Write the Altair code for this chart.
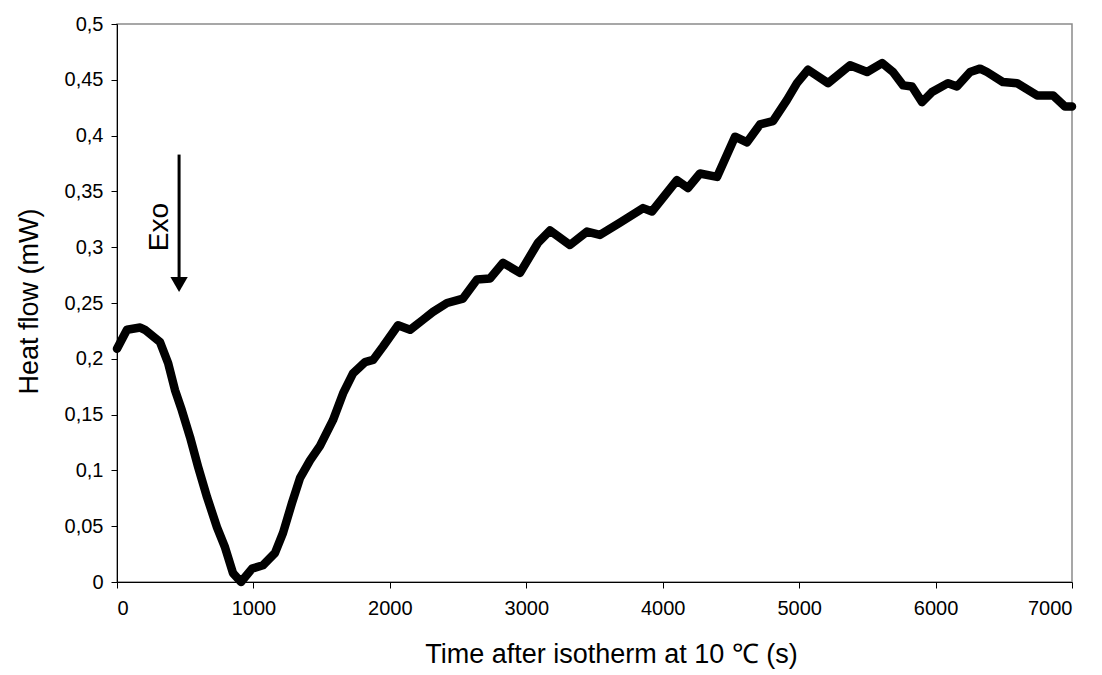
import altair as alt
import pandas as pd

# Heat flow curve (time in s, heat flow in mW)
time_s = [0, 73, 170, 205, 315, 375, 425, 475, 535, 595, 660, 733, 792, 850, 909,
          990, 1070, 1158, 1217, 1283, 1341, 1415, 1488, 1583, 1657, 1730, 1818, 1877,
          1950, 2060, 2148, 2243, 2316, 2419, 2536, 2639, 2734, 2830, 2954, 3086, 3174,
          3320, 3445, 3540, 3687, 3856, 3921, 4104, 4185, 4273, 4398, 4530, 4618, 4713,
          4808, 4911, 4984, 5065, 5212, 5373, 5498, 5608, 5688, 5762, 5827, 5901, 5974,
          6091, 6157, 6253, 6326, 6377, 6494, 6597, 6744, 6861, 6949, 7000]
heat_mw = [0.209, 0.226, 0.228, 0.226, 0.215, 0.196, 0.172, 0.154, 0.130, 0.103, 0.076,
           0.049, 0.031, 0.008, 0.000, 0.012, 0.015, 0.026, 0.044, 0.071, 0.093, 0.109,
           0.122, 0.145, 0.169, 0.187, 0.197, 0.199, 0.211, 0.230, 0.226, 0.235, 0.242,
           0.250, 0.254, 0.271, 0.272, 0.286, 0.277, 0.304, 0.315, 0.302, 0.314, 0.311,
           0.322, 0.335, 0.332, 0.360, 0.353, 0.366, 0.363, 0.399, 0.394, 0.410, 0.413,
           0.432, 0.447, 0.459, 0.447, 0.463, 0.457, 0.465, 0.457, 0.445, 0.444, 0.430,
           0.439, 0.447, 0.444, 0.457, 0.460, 0.457, 0.448, 0.447, 0.436, 0.436, 0.426,
           0.426]

x_ticks = [0, 1000, 2000, 3000, 4000, 5000, 6000, 7000]
y_ticks = [0, 0.05, 0.1, 0.15, 0.2, 0.25, 0.3, 0.35, 0.4, 0.45, 0.5]

# Annotation: "Exo" arrow
arrow_x = [455]
arrow_top = [0.383]
arrow_end = [0.27]
arrow_head_y = [0.2665]
exo_label = ["Exo"]
exo_x = [315]
exo_y = [0.318]

FONT = "Liberation Sans"

df = pd.DataFrame({"t": time_s, "q": heat_mw})

xs = alt.Scale(domain=[0, 7000], nice=False, zero=False)
ys = alt.Scale(domain=[0, 0.5], nice=False)

x_axis = alt.Axis(values=x_ticks, format="d", grid=False, domainColor="black",
                  tickColor="black", tickSize=6, labelFontSize=20, labelFont=FONT,
                  labelColor="black", labelPadding=10,
                  title="Time after isotherm at 10 ℃ (s)", titleFont=FONT,
                  titleFontSize=27, titleFontWeight="normal", titleColor="black",
                  titleX=494, titleY=72, titleBaseline="middle", titleAnchor="middle")
y_axis = alt.Axis(values=y_ticks, grid=False, domainColor="black",
                  tickColor="black", tickSize=6, labelFontSize=20, labelFont=FONT,
                  labelColor="black", labelPadding=8,
                  labelExpr="replace(format(datum.value, '.2~f'), '.', ',')",
                  title="Heat flow (mW)", titleFont=FONT, titleFontSize=27,
                  titleFontWeight="normal", titleColor="black",
                  titleX=-88, titleY=277, titleAngle=270, titleBaseline="middle",
                  titleAlign="center")

line = alt.Chart(df).mark_line(color="black", strokeWidth=8.5, strokeJoin="round",
                               strokeCap="round").encode(
    x=alt.X("t:Q", scale=xs, axis=x_axis),
    y=alt.Y("q:Q", scale=ys, axis=y_axis),
)

adf = pd.DataFrame({"x": arrow_x, "y": arrow_top, "y2": arrow_end, "yh": arrow_head_y})
shaft = alt.Chart(adf).mark_rule(color="black", strokeWidth=3).encode(
    x=alt.X("x:Q", scale=xs), y=alt.Y("y:Q", scale=ys), y2="y2:Q")
head = alt.Chart(adf).mark_point(shape="triangle-down", filled=True, color="black",
                                 size=300, opacity=1).encode(
    x=alt.X("x:Q", scale=xs), y=alt.Y("yh:Q", scale=ys))

tdf = pd.DataFrame({"x": exo_x, "y": exo_y, "label": exo_label})
exo = alt.Chart(tdf).mark_text(angle=270, font=FONT, fontSize=28, color="black",
                               align="center", baseline="middle").encode(
    x=alt.X("x:Q", scale=xs), y=alt.Y("y:Q", scale=ys), text="label:N")

chart = alt.layer(line, shaft, head, exo).properties(
    width=955, height=558,
    autosize=alt.AutoSizeParams(type="none"),
    padding={"left": 109, "top": 16, "right": 22, "bottom": 92},
    background="white",
).configure_view(stroke="#8a8a8a", strokeWidth=1.5)

chart.save("out.html", embed_options={"renderer": "svg", "actions": False})
